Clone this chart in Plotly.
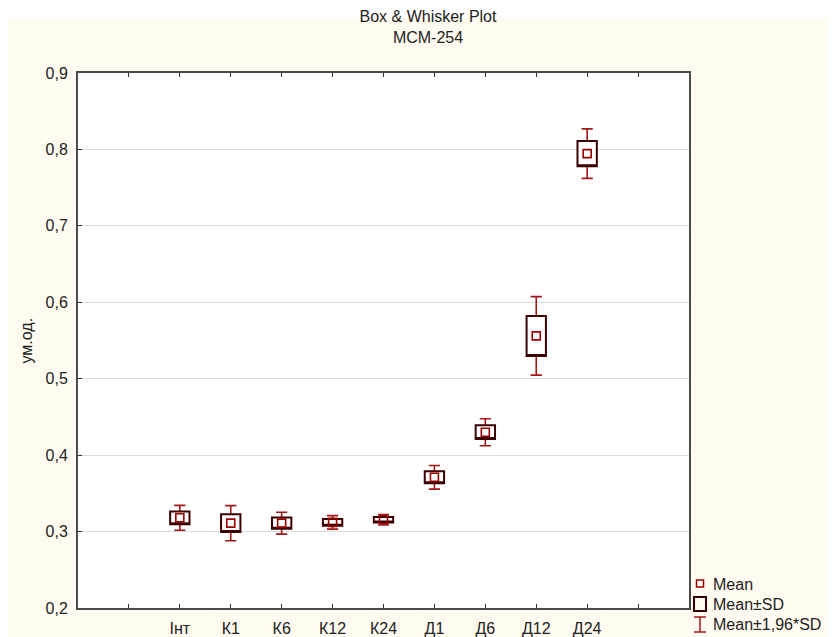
import plotly.graph_objects as go

# ---- data ----
categories = ["Інт", "К1", "К6", "К12", "К24", "Д1", "Д6", "Д12", "Д24"]
positions = [0, 1, 2, 3, 4, 5, 6, 7, 8]
means = [0.318, 0.311, 0.311, 0.312, 0.3155, 0.371, 0.430, 0.556, 0.7945]
sds = [0.0083, 0.0117, 0.0073, 0.0045, 0.0035, 0.0079, 0.0090, 0.0262, 0.0165]
y_ticks = [0.2, 0.3, 0.4, 0.5, 0.6, 0.7, 0.8, 0.9]
x_tickvals = [-1, 0, 1, 2, 3, 4, 5, 6, 7, 8, 9]
x_ticktext = [""] + categories + [""]

FONT = "Liberation Sans, Arial, sans-serif"
FS = 16
BOX_COL = "#3c0000"
WHISK_COL = "#a01818"
MEAN_COL = "#990000"
CREAM = "#FFFBF0"
TXT = "#222"

k = 1.96
sd_lo = [m - s for m, s in zip(means, sds)]
sd_hi = [m + s for m, s in zip(means, sds)]
w_lo = [m - k * s for m, s in zip(means, sds)]
w_hi = [m + k * s for m, s in zip(means, sds)]

fig = go.Figure()

# whiskers (Mean ± 1.96*SD)
fig.add_trace(go.Box(
    x=positions, q1=means, median=means, q3=means,
    lowerfence=w_lo, upperfence=w_hi,
    width=0.22, whiskerwidth=1,
    fillcolor="white", line=dict(color=WHISK_COL, width=1.6),
    boxpoints=False, hoverinfo="skip", showlegend=False,
))
# boxes (Mean ± SD)
fig.add_trace(go.Box(
    x=positions, q1=sd_lo, median=sd_lo, q3=sd_hi,
    lowerfence=sd_lo, upperfence=sd_hi,
    width=0.38, whiskerwidth=0,
    fillcolor="white", line=dict(color=BOX_COL, width=2),
    boxpoints=False, hoverinfo="skip", showlegend=False,
))
# means
fig.add_trace(go.Scatter(
    x=positions, y=means, mode="markers",
    marker=dict(symbol="square-open", size=8, color=MEAN_COL,
                line=dict(width=1.6, color=MEAN_COL)),
    hoverinfo="skip", showlegend=False,
))

# page body has an 8px margin: figure coordinates = reference pixels - 8
OFF = 8
W, H = 835 - OFF, 637 - OFF
L, R, T, B = 78 - OFF, 689 - OFF, 73 - OFF, 608 - OFF
pw, ph = R - L, B - T


def px(x):
    return (x - OFF - L) / pw


def py(y):
    return (B - (y - OFF)) / ph


shapes = [
    # white strip above the cream panel
    dict(type="rect", xref="paper", yref="paper", x0=px(0), x1=px(850), y0=py(0), y1=py(18),
         fillcolor="white", line=dict(width=0), layer="below"),
    # legend icons
    dict(type="rect", xref="paper", yref="paper", x0=px(696.5), x1=px(703.5), y0=py(587), y1=py(580),
         fillcolor="rgba(0,0,0,0)", line=dict(color=MEAN_COL, width=1.5)),
    dict(type="rect", xref="paper", yref="paper", x0=px(694), x1=px(706), y0=py(611), y1=py(597),
         fillcolor="rgba(0,0,0,0)", line=dict(color=BOX_COL, width=2)),
    dict(type="line", xref="paper", yref="paper", x0=px(700), x1=px(700), y0=py(632), y1=py(617),
         line=dict(color=WHISK_COL, width=1.5)),
    dict(type="line", xref="paper", yref="paper", x0=px(694), x1=px(706), y0=py(617), y1=py(617),
         line=dict(color=WHISK_COL, width=1.5)),
    dict(type="line", xref="paper", yref="paper", x0=px(694), x1=px(706), y0=py(632), y1=py(632),
         line=dict(color=WHISK_COL, width=1.5)),
]

legend_labels = ["Mean", "Mean±SD", "Mean±1,96*SD"]
legend_y = [584, 604, 624]
annotations = [
    dict(text=t, xref="paper", yref="paper", x=px(711), y=py(yy), xanchor="left", yanchor="middle",
         showarrow=False, font=dict(family=FONT, size=FS, color=TXT))
    for t, yy in zip(legend_labels, legend_y)
]
# y-axis title placed explicitly
annotations.append(dict(text="ум.од.", xref="paper", yref="paper", x=px(26), y=0.5,
                        xanchor="center", yanchor="middle", textangle=-90, showarrow=False,
                        font=dict(family=FONT, size=FS, color=TXT)))

fig.update_layout(
    width=W, height=H,
    margin=dict(l=L, r=W - R, t=T, b=H - B, pad=0, autoexpand=False),
    paper_bgcolor=CREAM, plot_bgcolor="white",
    boxmode="overlay",
    separators=",.",
    showlegend=False,
    font=dict(family=FONT, size=FS, color=TXT),
    title=dict(text="Box & Whisker Plot<br>MCM-254", x=(428 - OFF) / W, xref="container",
               xanchor="center", y=1 - (22 - OFF) / H, yref="container", yanchor="top",
               font=dict(family=FONT, size=FS, color=TXT)),
    shapes=shapes,
    annotations=annotations,
)

fig.update_xaxes(
    range=[-2, 10], tickvals=x_tickvals, ticktext=x_ticktext,
    showgrid=False, zeroline=False, automargin=False,
    showline=True, linecolor="#4a4a4a", linewidth=2, mirror="allticks",
    ticks="inside", ticklen=4, tickwidth=1, tickcolor="#333",
    ticklabelstandoff=5,
    tickfont=dict(family=FONT, size=FS, color=TXT),
)
fig.update_yaxes(
    range=[0.2, 0.9], tickvals=y_ticks, tickformat=".1f",
    showgrid=True, gridcolor="#dcdcdc", gridwidth=1, zeroline=False, automargin=False,
    showline=True, linecolor="#4a4a4a", linewidth=2, mirror=True,
    ticks="inside", ticklen=4, tickwidth=1, tickcolor="#333",
    ticklabelstandoff=5,
    tickfont=dict(family=FONT, size=FS, color=TXT),
)

fig.write_html("out.html")
